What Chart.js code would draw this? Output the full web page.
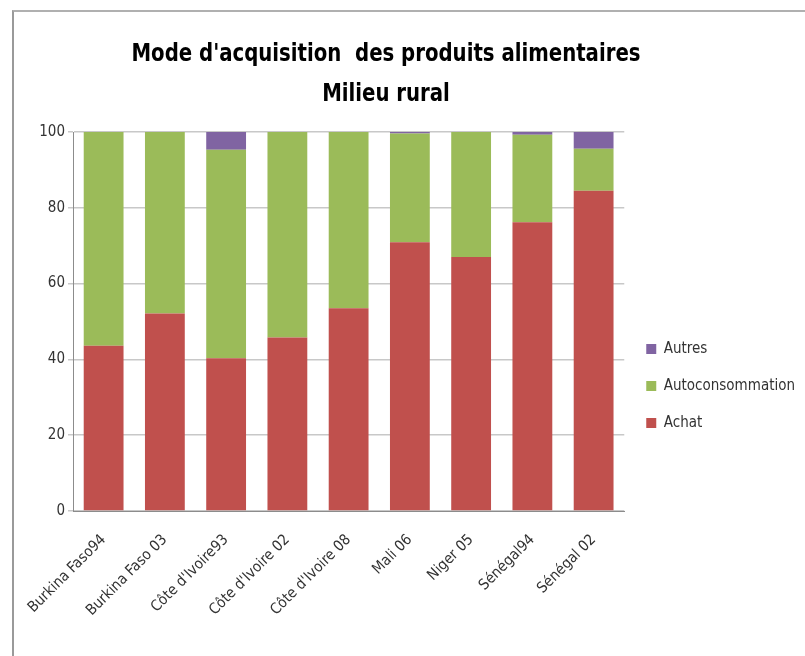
<!DOCTYPE html>
<html>
<head>
<meta charset="utf-8">
<script src="https://cdn.jsdelivr.net/npm/chart.js@4"></script>
<style>
  html, body { margin: 0; padding: 0; background: #fff; }
  #wrap { position: relative; width: 805px; height: 656px; overflow: hidden; }
  #frame { position: absolute; left: 12px; top: 10px; width: 900px; height: 800px;
           border-left: 2px solid #9a9a9a; border-top: 2px solid #b0b0b0; }
  canvas { position: absolute; left: 0; top: 0; }
</style>
</head>
<body>
<div id="wrap">
  <div id="frame"></div>
  <canvas id="c" width="805" height="656"></canvas>
</div>
<script>
const titleLines = ["Mode d'acquisition  des produits alimentaires", "Milieu rural"];
const categories = ["Burkina Faso94", "Burkina Faso 03", "Côte d'Ivoire93", "Côte d'Ivoire 02",
                    "Côte d'Ivoire 08", "Mali 06", "Niger 05", "Sénégal94", "Sénégal 02"];
const achat = [43.6, 52.1, 40.3, 45.8, 53.5, 70.9, 67.0, 76.2, 84.5];
const autoconsommation = [56.4, 47.9, 55.0, 54.2, 46.5, 28.7, 33.0, 23.1, 11.1];
const autres = [0, 0, 4.7, 0, 0, 0.4, 0, 0.7, 4.4];
const yTicks = [0, 20, 40, 60, 80, 100];

const FONT = "'Liberation Sans Narrow', 'DejaVu Sans Condensed', 'Noto Sans', sans-serif";

const titlePlugin = {
  id: 'customTitle',
  afterDraw(chart) {
    const ctx = chart.ctx;
    ctx.save();
    ctx.fillStyle = '#000';
    ctx.textAlign = 'center';
    ctx.textBaseline = 'middle';
    ctx.font = "bold 25px " + FONT;
    const w = ctx.measureText(titleLines[0]).width;
    const sx = Math.min(1, 509 / w);
    ctx.translate(386, 0);
    ctx.scale(sx, 1);
    ctx.fillText(titleLines[0], 0, 54);
    ctx.fillText(titleLines[1], 0, 94);
    ctx.restore();
  }
};

new Chart(document.getElementById('c'), {
  type: 'bar',
  data: {
    labels: categories,
    datasets: [
      { label: 'Achat', data: achat, backgroundColor: '#c0504d' },
      { label: 'Autoconsommation', data: autoconsommation, backgroundColor: '#9bbb59' },
      { label: 'Autres', data: autres, backgroundColor: '#8064a2' }
    ]
  },
  options: {
    responsive: false,
    animation: false,
    devicePixelRatio: 1,
    layout: { padding: { left: 13, top: 132, right: 0, bottom: 16 } },
    datasets: { bar: { categoryPercentage: 1.0, barPercentage: 0.65, borderWidth: 0 } },
    scales: {
      x: {
        stacked: true,
        grid: { display: false },
        border: { display: true, color: '#8c8c8c', width: 1 },
        ticks: { color: '#333', font: { family: FONT, size: 15 }, minRotation: 45, maxRotation: 45, autoSkip: false, padding: 12 },
        afterFit: s => { s.height = 129; }
      },
      y: {
        stacked: true,
        min: 0, max: 100,
        afterBuildTicks: s => { s.ticks = yTicks.map(v => ({ value: v })); },
        grid: { color: '#c8c8c8', lineWidth: 1.5, tickLength: 5 },
        border: { display: true, color: '#8c8c8c', width: 1 },
        ticks: { color: '#333', font: { family: FONT, size: 15 }, padding: 3 },
        afterFit: s => { s.width = 60; }
      }
    },
    plugins: {
      title: { display: false },
      tooltip: { enabled: false },
      legend: {
        position: 'right',
        reverse: true,
        labels: { boxWidth: 10, boxHeight: 10, padding: 22, color: '#333', font: { family: FONT, size: 15 } }
      }
    }
  },
  plugins: [titlePlugin]
});
</script>
</body>
</html>
